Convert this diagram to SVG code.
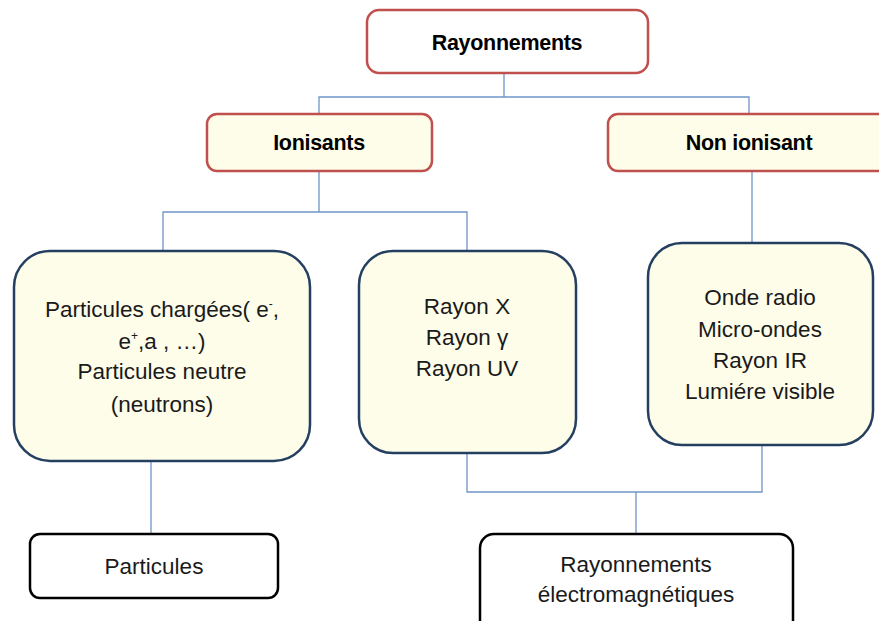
<svg xmlns="http://www.w3.org/2000/svg" width="879" height="621" viewBox="0 0 879 621">
<style>
.r{fill:#ffffff;stroke:#c0504d;stroke-width:2.5}
.ry{fill:#fdfdea;stroke:#c0504d;stroke-width:2.5}
.b{fill:#fdfdea;stroke:#243f60;stroke-width:2.5}
.w{fill:#ffffff;stroke:#000000;stroke-width:2.5}
.c{fill:none;stroke:#6f95c8;stroke-width:1.3}
text{font-family:"Liberation Sans",Arial,sans-serif;fill:#1a1a1a;text-anchor:middle}
.h{font-size:21.5px;font-weight:bold;fill:#000;letter-spacing:-0.3px}
.t{font-size:22.5px}
</style>
<g id="connectors">
<path class="c" d="M504 73V97M319 114V97H749V114"/>
<path class="c" d="M319 171V212M163 250V212H467V251"/>
<path class="c" d="M752 171V243"/>
<path class="c" d="M151 461V534"/>
<path class="c" d="M467 453V492H762V445M636 492V534"/>
</g>
<g id="rayonnements">
<rect class="r" x="367" y="10" width="281" height="63" rx="12"/>
<text class="h" x="507" y="50">Rayonnements</text>
</g>
<g id="ionisants">
<rect class="ry" x="207" y="114" width="225" height="57" rx="10"/>
<text class="h" x="319" y="150">Ionisants</text>
</g>
<g id="non-ionisant">
<rect class="ry" x="608" y="114" width="285" height="57" rx="10"/>
<text class="h" x="749" y="150">Non ionisant</text>
</g>
<g id="particules-chargees">
<rect class="b" x="14" y="251" width="296" height="210" rx="36"/>
<text class="t" x="162" y="317">Particules chargées( e<tspan font-size="12" dy="-9">-</tspan><tspan dy="9">,</tspan></text>
<text class="t" x="162" y="349">e<tspan font-size="12" dy="-9">+</tspan><tspan dy="9">,a , …)</tspan></text>
<text class="t" x="162" y="379">Particules neutre</text>
<text class="t" x="162" y="412">(neutrons)</text>
</g>
<g id="rayon-x">
<rect class="b" x="359" y="251" width="217" height="202" rx="34"/>
<text class="t" x="467" y="314">Rayon X</text>
<text class="t" x="467" y="345">Rayon γ</text>
<text class="t" x="467" y="376">Rayon UV</text>
</g>
<g id="onde-radio">
<rect class="b" x="648" y="243" width="225" height="202" rx="34"/>
<text class="t" x="760" y="305">Onde radio</text>
<text class="t" x="760" y="337">Micro-ondes</text>
<text class="t" x="760" y="368">Rayon IR</text>
<text class="t" x="760" y="399">Lumiére visible</text>
</g>
<g id="particules">
<rect class="w" x="30" y="534" width="248" height="64" rx="10"/>
<text class="t" x="154" y="574">Particules</text>
</g>
<g id="rayonnements-em">
<rect class="w" x="480" y="534" width="313" height="100" rx="14"/>
<text class="t" x="636" y="572">Rayonnements</text>
<text class="t" x="636" y="602">électromagnétiques</text>
</g>
</svg>
